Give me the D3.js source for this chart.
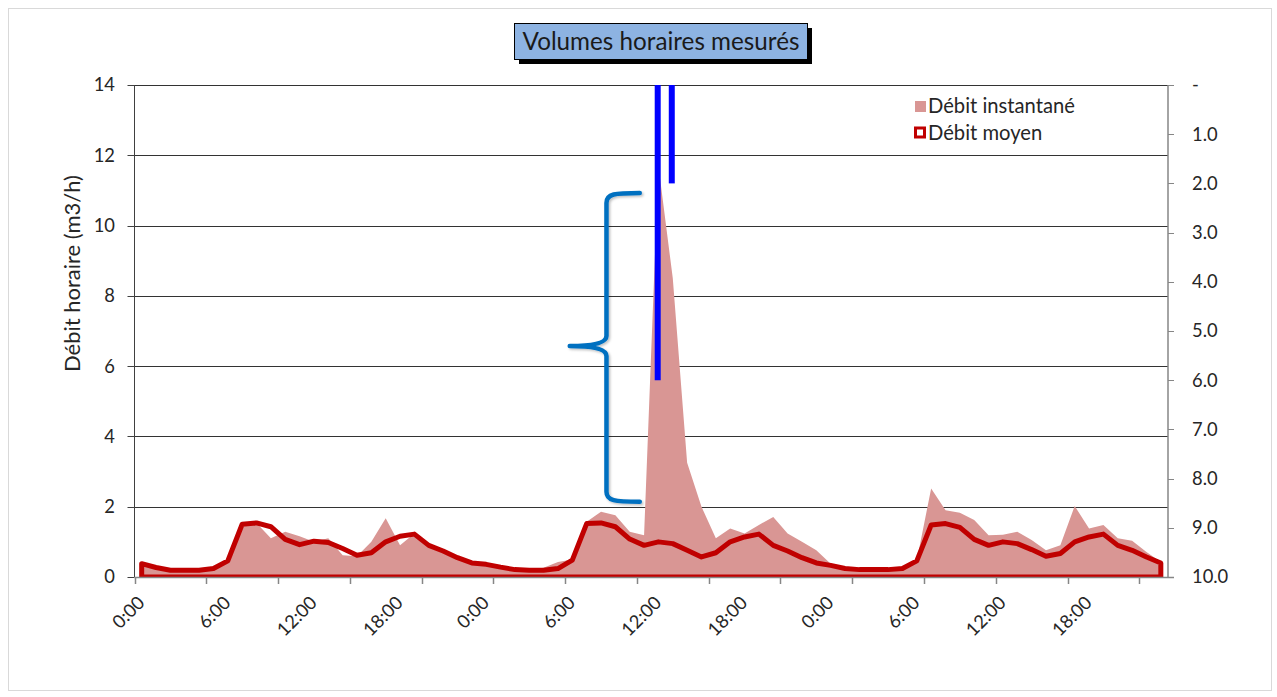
<!DOCTYPE html>
<html><head><meta charset="utf-8">
<script src="https://cdn.jsdelivr.net/npm/d3@7"></script>
<style>body{margin:0;background:#fff;} svg{display:block;}</style>
</head><body>
<svg id="c" width="1277" height="697"></svg>
<script>
// ---------- data ----------
const categories = d3.range(72).map(i => `${i % 24}:00`);   // hourly, 3 days
const debitInstantane = [
  0.35,0.25,0.2,0.2,0.2,0.25,0.47,1.52,1.54,1.1,1.29,1.16,1.0,1.1,0.62,0.59,1.0,1.67,0.9,1.24,0.95,0.76,0.55,0.43,
  0.38,0.3,0.22,0.2,0.26,0.43,0.5,1.57,1.86,1.76,1.29,1.19,11.7,8.5,3.25,2.0,1.1,1.38,1.24,1.48,1.71,1.24,1.0,0.76,
  0.38,0.27,0.2,0.2,0.2,0.26,0.47,2.52,1.9,1.83,1.62,1.19,1.2,1.29,1.05,0.76,0.9,2.02,1.38,1.48,1.1,1.03,0.71,0.43];
const debitMoyen = [
  0.38,0.27,0.19,0.19,0.19,0.24,0.46,1.5,1.54,1.43,1.07,0.92,1.02,0.98,0.81,0.62,0.69,1.0,1.16,1.22,0.9,0.74,0.55,0.4,
  0.36,0.28,0.21,0.19,0.19,0.24,0.48,1.52,1.54,1.43,1.08,0.9,1.0,0.95,0.76,0.57,0.69,1.0,1.14,1.22,0.9,0.74,0.55,0.4,
  0.33,0.24,0.21,0.21,0.21,0.24,0.46,1.48,1.52,1.41,1.07,0.9,1.0,0.95,0.78,0.59,0.67,1.0,1.14,1.22,0.9,0.76,0.57,0.4];
const leftTicks = [0,2,4,6,8,10,12,14];
const rightTicks = [0,1,2,3,4,5,6,7,8,9,10];
const labelEvery = 6, tickEvery = 5;
const title = "Volumes horaires mesurés";
const yTitle = "Débit horaire (m3/h)";
const legendNames = ["Débit instantané", "Débit moyen"];
// annotations in data space (category units from left edge, value units)
const blueBars = [{u:36.45, from:14, to:5.6}, {u:37.43, from:14, to:11.2}];
const brace = {uTip:30.32, uSpine:32.88, uEnd:35.2, top:10.93, mid:6.57, bottom:2.14};

// ---------- layout ----------
const FONT = "Lato, 'Open Sans', sans-serif";
const cv = document.createElement("canvas").getContext("2d");
function fit(str, target){ cv.font = "100px Lato"; return 100*target/cv.measureText(str).width; }
const tickFS = fit("0:00", 36.5);

const L=134.5, R=1168, T=85, B=577;
const svg = d3.select("#c");
svg.append("rect").attr("x",8.5).attr("y",8.5).attr("width",1263).attr("height",682)
   .attr("fill","#fff").attr("stroke","#d9d9d9");

const x = d3.scaleBand().domain(d3.range(categories.length)).range([L,R]).padding(0);
const bw = x.bandwidth();
const cx = i => x(i) + bw/2;
const xu = d3.scaleLinear().domain([0,categories.length]).range([L,R]);
const y = d3.scaleLinear().domain([0,14]).range([B,T]);
const y2 = d3.scaleLinear().domain([0,10]).range([T,B]);

svg.append("clipPath").attr("id","pc").append("rect")
   .attr("x",L).attr("y",T).attr("width",R-L).attr("height",B-T);

// gridlines
svg.append("g").selectAll("line").data(leftTicks.filter(d=>d>0)).join("line")
  .attr("x1",L).attr("x2",R).attr("y1",d=>Math.round(y(d))+0.5).attr("y2",d=>Math.round(y(d))+0.5)
  .attr("stroke","#333").attr("stroke-width",1);

// series
const g = svg.append("g").attr("clip-path","url(#pc)");
const area = d3.area().x((d,i)=>cx(i)).y0(y(0)).y1(d=>y(d));
g.append("path").datum(debitInstantane).attr("d",area).attr("fill","#D99694");
g.append("path").datum(debitMoyen).attr("d", d => area(d) + "Z")
  .attr("fill","none").attr("stroke","#C00000").attr("stroke-width",5).attr("stroke-linejoin","round");

// left axis
const la = svg.append("g");
la.append("line").attr("x1",L).attr("x2",L).attr("y1",T).attr("y2",B).attr("stroke","#404040");
la.selectAll("line.t").data(leftTicks).join("line").attr("class","t")
  .attr("x1",L-7).attr("x2",L).attr("y1",d=>Math.round(y(d))+0.5).attr("y2",d=>Math.round(y(d))+0.5)
  .attr("stroke","#404040");
la.selectAll("text").data(leftTicks).join("text")
  .attr("x",115).attr("y",d=>y(d)).attr("dy","0.35em").attr("text-anchor","end")
  .attr("font-family",FONT).attr("font-size",tickFS).attr("fill","#262626").text(d=>d);

// right axis
const ra = svg.append("g");
ra.append("line").attr("x1",R).attr("x2",R).attr("y1",T).attr("y2",B).attr("stroke","#868686").attr("stroke-width",1.5);
ra.selectAll("line.t").data(rightTicks).join("line").attr("class","t")
  .attr("x1",R).attr("x2",R+6).attr("y1",d=>Math.round(y2(d))+0.5).attr("y2",d=>Math.round(y2(d))+0.5)
  .attr("stroke","#868686");
ra.selectAll("text").data(rightTicks).join("text")
  .attr("x",1192).attr("y",d=>y2(d)).attr("dy","0.35em")
  .attr("font-family",FONT).attr("font-size",tickFS).attr("fill","#262626")
  .text(d=> d===0 ? "-" : d.toFixed(1));

// x axis
const xa = svg.append("g");
xa.append("line").attr("x1",L).attr("x2",R+6).attr("y1",B+0.5).attr("y2",B+0.5).attr("stroke","#868686").attr("stroke-width",1.5);
const tickIdx = d3.range(0, categories.length, tickEvery);
xa.selectAll("line.t").data(tickIdx).join("line").attr("class","t")
  .attr("x1",i=>Math.round(x(i))+0.5).attr("x2",i=>Math.round(x(i))+0.5).attr("y1",B).attr("y2",B+7)
  .attr("stroke","#868686").attr("stroke-width",1.5);
const labIdx = d3.range(0, categories.length, labelEvery);
xa.selectAll("text").data(labIdx).join("text")
  .attr("transform",i=>`translate(${cx(i)+4},${B+27}) rotate(-45)`)
  .attr("text-anchor","end").attr("font-family",FONT).attr("font-size",tickFS).attr("fill","#262626")
  .text(i=>categories[i]);

// y title
svg.append("text").attr("transform",`translate(80,${(175+372)/2}) rotate(-90)`)
  .attr("text-anchor","middle").attr("font-family",FONT).attr("font-size",fit(yTitle,197))
  .attr("fill","#262626").text(yTitle);

// title box
svg.append("rect").attr("x",519).attr("y",28).attr("width",293).attr("height",36).attr("fill","#000");
svg.append("rect").attr("x",514.5).attr("y",23.5).attr("width",293).attr("height",36)
  .attr("fill","#8DB3E2").attr("stroke","#000").attr("stroke-width",1);
svg.append("text").attr("x",661).attr("y",41.5).attr("dy","0.35em").attr("text-anchor","middle")
  .attr("font-family",FONT).attr("font-size",fit(title,277)).attr("fill","#1a1a1a").text(title);

// legend
const lg = svg.append("g");
lg.append("rect").attr("x",915).attr("y",101).attr("width",11).attr("height",11).attr("fill","#D99694");
lg.append("rect").attr("x",915.5).attr("y",128).attr("width",9).attr("height",9)
  .attr("fill","#fff").attr("stroke","#C00000").attr("stroke-width",3);
lg.selectAll("text").data(legendNames).join("text")
  .attr("x",928).attr("y",(d,i)=>106+i*27).attr("dy","0.35em")
  .attr("font-family",FONT).attr("font-size",fit(legendNames[0],147)).attr("fill","#262626").text(d=>d);

// annotations
const defs = svg.append("defs");
const f = defs.append("filter").attr("id","sh").attr("x","-20%").attr("y","-20%").attr("width","140%").attr("height","140%");
f.append("feDropShadow").attr("dx",1.5).attr("dy",1.5).attr("stdDeviation",1.2).attr("flood-color","#000").attr("flood-opacity",0.25);
const bx = {tip:xu(brace.uTip), sp:xu(brace.uSpine), end:xu(brace.uEnd)};
const by = {top:y(brace.top), mid:y(brace.mid), bot:y(brace.bottom)};
const r = 10;
const bracePath = `M${bx.end},${by.top} C${bx.sp+8},${by.top} ${bx.sp},${by.top+1} ${bx.sp},${by.top+r}
 L${bx.sp},${by.mid-10} Q${bx.sp},${by.mid} ${bx.tip},${by.mid}
 M${bx.tip},${by.mid} Q${bx.sp},${by.mid} ${bx.sp},${by.mid+10}
 L${bx.sp},${by.bot-r} C${bx.sp},${by.bot-1} ${bx.sp+8},${by.bot} ${bx.end},${by.bot}`;
svg.append("path").attr("d",bracePath).attr("fill","none").attr("stroke","#0070C0")
  .attr("stroke-width",4.5).attr("stroke-linecap","round").attr("filter","url(#sh)");
svg.append("g").selectAll("line").data(blueBars).join("line")
  .attr("x1",d=>xu(d.u)).attr("x2",d=>xu(d.u)).attr("y1",d=>y(d.from)).attr("y2",d=>y(d.to))
  .attr("stroke","#0000FF").attr("stroke-width",6);
</script>
</body></html>
